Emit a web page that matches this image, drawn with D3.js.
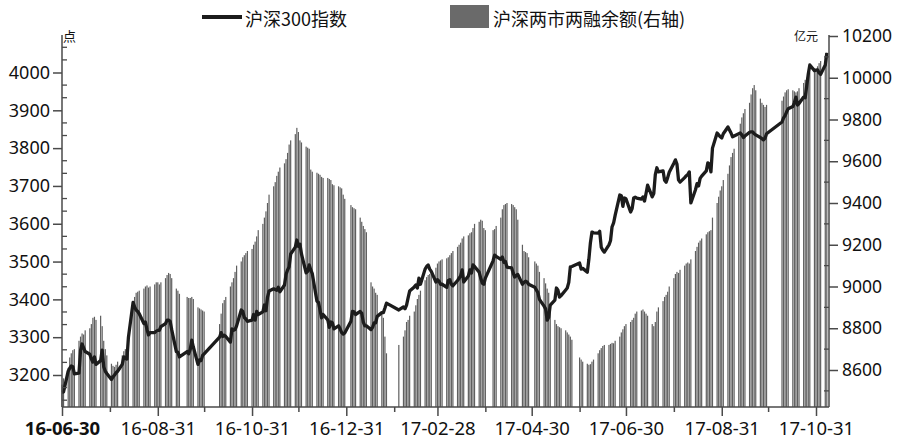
<!DOCTYPE html>
<html><head><meta charset="utf-8">
<script src="https://cdn.jsdelivr.net/npm/d3@7/dist/d3.min.js"></script>
<style>body{margin:0;background:#fff}svg{display:block}</style>
</head><body><svg id="c" width="900" height="445"></svg>
<script>
// ---- categories: trading months and exchange holidays ----
const months = ["2016-06","2016-07","2016-08","2016-09","2016-10","2016-11","2016-12",
  "2017-01","2017-02","2017-03","2017-04","2017-05","2017-06","2017-07","2017-08","2017-09","2017-10","2017-11"];
const holidays = ["2016-09-15","2016-09-16","2016-10-03","2016-10-04","2016-10-05","2016-10-06","2016-10-07",
  "2017-01-02","2017-01-27","2017-01-30","2017-01-31","2017-02-01","2017-02-02","2017-04-03","2017-04-04",
  "2017-05-01","2017-05-29","2017-05-30","2017-10-02","2017-10-03","2017-10-04","2017-10-05","2017-10-06"];
const firstDay = "2016-06-30", lastDay = "2017-11-07";

// ---- series: 沪深300指数 (left axis), one value per trading day, per month ----
const hs300 = [
  [3154],
  [3155,3210,3218,3224,3222,3203,3205,3265,3282,3272,3262,3255,3242,3234,3248,3228,3238,3266,3222,3210,3204],
  [3188,3195,3200,3206,3210,3228,3248,3245,3242,3300,3392,3380,3372,3368,3362,3336,3340,3320,3306,3312,3312,3316,3318],
  [3318,3328,3336,3345,3345,3342,3320,3262,3260,3248,3262,3256,3268,3292,3274,3228,3240,3238,3252,3256],
  [3300,3312,3302,3305,3302,3287,3322,3318,3320,3330,3372,3368,3352,3348,3342,3345],
  [3360,3345,3368,3360,3367,3385,3370,3405,3422,3428,3426,3424,3432,3420,3438,3466,3478,3486,3520,3538,3557,3540],
  [3546,3520,3470,3474,3491,3478,3468,3395,3392,3372,3351,3360,3346,3326,3340,3338,3322,3330,3322,3312,3308,3311],
  [3342,3368,3367,3360,3368,3363,3340,3330,3330,3320,3326,3338,3338,3355,3365,3365,3377,3390],
  [3372,3380,3375,3385,3404,3422,3433,3438,3430,3456,3440,3480,3487,3491,3480,3474,3446,3452],
  [3448,3440,3440,3432,3450,3452,3440,3436,3450,3456,3462,3478,3446,3462,3478,3470,3491,3487,3472,3456,3443,3440,3456],
  [3502,3517,3514,3506,3512,3498,3500,3485,3483,3470,3459,3463,3466,3440,3445,3448,3446,3440],
  [3432,3425,3418,3400,3382,3375,3345,3353,3385,3398,3430,3424,3406,3410,3425,3430,3445,3486,3487,3496],
  [3480,3482,3472,3506,3550,3578,3576,3575,3580,3538,3530,3525,3544,3555,3592,3602,3622,3676,3674,3646,3668,3666],
  [3631,3640,3668,3670,3668,3665,3671,3660,3680,3702,3671,3680,3730,3748,3737,3740,3715,3710,3722,3736,3760],
  [3769,3758,3716,3710,3722,3727,3730,3737,3655,3690,3706,3700,3720,3726,3740,3761,3758,3737,3800,3840,3835,3830,3827],
  [3838,3856,3848,3840,3830,3832,3838,3840,3835,3828,3832,3842,3843,3843,3838,3835,3828,3825,3822,3826,3838],
  [3869,3880,3886,3896,3904,3910,3920,3935,3914,3918,3935,3933,3965,3996,4020,4005,4006],
  [4007,3999,3995,4020,4052]
];
// ---- series: 沪深两市两融余额 (亿元, right axis) ----
const marginBal = [
  [8530],
  [8560,8610,8660,8680,8695,8700,8740,8760,8775,8770,8790,8800,8820,8850,8855,8840,8860,8810,8740,8700,8670],
  [8630,8620,8615,8625,8640,8670,8690,8700,8705,8760,8900,8950,8970,8975,8980,8990,9000,9005,8995,9000,9010,9020,9020],
  [9010,9020,9040,9055,9065,9060,9040,8990,8980,8965,8950,8945,8945,8950,8940,8900,8895,8890,8885,8880],
  [8820,8870,8920,8935,8950,9000,9020,9040,9070,9100,9120,9140,9150,9160,9170,9180],
  [9200,9215,9240,9270,9300,9330,9360,9400,9440,9480,9500,9530,9550,9570,9590,9610,9640,9680,9700,9730,9760,9740],
  [9700,9690,9670,9665,9660,9560,9550,9545,9540,9535,9525,9520,9520,9515,9510,9490,9485,9480,9475,9470,9440,9420],
  [9390,9380,9375,9370,9330,9310,9290,9275,9260,9020,9000,8990,8970,8960,8880,8850,8760,8680],
  [8720,8760,8790,8830,8840,8860,8880,8910,8940,8960,8980,9030,9045,9055,9060,9070,9090,9110],
  [9120,9125,9130,9135,9140,9150,9160,9170,9190,9200,9210,9230,9240,9245,9255,9260,9280,9300,9310,9320,9315,9280,9270],
  [9270,9275,9290,9330,9370,9390,9395,9400,9395,9390,9380,9370,9320,9200,9170,9165,9160,9140],
  [9120,9110,9100,9070,9040,9015,8990,8970,8900,8840,8820,8810,8805,8800,8790,8780,8770,8760,8745,8660],
  [8650,8640,8630,8625,8628,8640,8650,8680,8695,8705,8715,8720,8720,8725,8730,8728,8740,8760,8780,8795,8810,8820],
  [8830,8840,8850,8870,8880,8885,8890,8880,8870,8860,8820,8810,8830,8880,8900,8930,8950,8960,8975,9000,9040],
  [9060,9070,9065,9080,9100,9110,9115,9110,9130,9170,9190,9210,9220,9230,9250,9260,9265,9270,9330,9400,9430,9460,9480],
  [9510,9540,9580,9620,9640,9660,9720,9780,9810,9830,9850,9880,9920,9950,9965,9940,9900,9880,9870,9860,9870],
  [9890,9910,9930,9940,9945,9940,9935,9930,9935,9950,9975,9990,10000,10010,10025,10035,10045],
  [10055,10070,10080,10100,10120]
];

// ---- tick labels ----
const xTickDates = ["2016-06-30","2016-07-31","2016-08-31","2016-09-30","2016-10-31","2016-11-30","2016-12-31",
  "2017-01-31","2017-02-28","2017-03-31","2017-04-30","2017-05-31","2017-06-30","2017-07-31","2017-08-31","2017-09-30","2017-10-31"];
const xTickLabels = ["16-06-30","","16-08-31","","16-10-31","","16-12-31","","17-02-28","","17-04-30","","17-06-30","","17-08-31","","17-10-31"];
const leftTicks = [3200,3300,3400,3500,3600,3700,3800,3900,4000];
const rightTicks = [8600,8800,9000,9200,9400,9600,9800,10000,10200];
const legendLabels = ["沪深300指数","沪深两市两融余额(右轴)"];

// ---- build rows ----
const parse = d3.timeParse("%Y-%m-%d"), fmt = d3.timeFormat("%Y-%m-%d");
const hol = new Set(holidays);
const d0 = parse(firstDay), d1 = parse(lastDay);
const rows = [];
months.forEach((m, i) => {
  const [yy, mm] = m.split("-").map(Number);
  const days = d3.timeDays(new Date(yy, mm - 1, 1), new Date(yy, mm, 1))
    .filter(d => d.getDay() % 6 !== 0 && !hol.has(fmt(d)) && d >= d0 && d <= d1);
  days.forEach((d, j) => { if (hs300[i][j] != null) rows.push({date: d, hs: hs300[i][j], mg: marginBal[i][j]}); });
});

// ---- layout ----
const L = 62, R = 829, T = 35, B = 407;
const svg = d3.select("#c");
const x = d3.scaleTime().domain([parse("2016-06-30"), parse("2017-10-31")]).range([62, 816]);
const yL = d3.scaleLinear().domain([3200, 4000]).range([375, 72.5]);
const yR = d3.scaleLinear().domain([8600, 10200]).range([370, 36]);
const numFont = "'Noto Sans', 'Noto Sans CJK SC', sans-serif";
const cjkFont = "'Noto Sans CJK SC', 'Noto Sans', sans-serif";
const axisCol = "#4a4a4a";

// bars
svg.append("g").selectAll("rect").data(rows).join("rect")
  .attr("x", d => x(d.date) - 0.6).attr("width", 1.2)
  .attr("y", d => yR(d.mg)).attr("height", d => B - yR(d.mg))
  .attr("fill", "#5f5f5f");

// line
svg.append("path").datum(rows)
  .attr("d", d3.line().x(d => x(d.date)).y(d => yL(d.hs)))
  .attr("fill", "none").attr("stroke", "#1c1c1c").attr("stroke-width", 3.3)
  .attr("stroke-linejoin", "round");

// axes lines
const ax = svg.append("g").attr("stroke", axisCol).attr("stroke-width", 1.5);
ax.append("line").attr("x1", L).attr("x2", L).attr("y1", T).attr("y2", B);
ax.append("line").attr("x1", R).attr("x2", R).attr("y1", T).attr("y2", B);
ax.append("line").attr("x1", L).attr("x2", R).attr("y1", B).attr("y2", B);

// left axis
const gl = svg.append("g").attr("transform", `translate(${L},0)`)
  .call(d3.axisLeft(yL).tickValues(leftTicks).tickSize(9).tickPadding(3).tickFormat(d3.format("d")));
gl.select(".domain").remove();
gl.selectAll(".tick line").attr("stroke", axisCol).attr("stroke-width", 1.5);
gl.selectAll(".tick text").attr("font-family", numFont).attr("font-size", 18).attr("fill", "#111");
const leftMinor = d3.range(3200 - 200/3, 4100.1, 100/3).filter(v => Math.abs((v - 3200) % 100) > 1 && Math.abs((v - 3200) % 100 - 100) > 1);
svg.append("g").selectAll("line").data(leftMinor).join("line")
  .attr("x1", L).attr("x2", L + 5).attr("y1", d => yL(d)).attr("y2", d => yL(d))
  .attr("stroke", axisCol).attr("stroke-width", 1.3);

// right axis
const gr = svg.append("g").attr("transform", `translate(${R},0)`)
  .call(d3.axisRight(yR).tickValues(rightTicks).tickSize(9).tickPadding(4).tickFormat(d3.format("d")));
gr.select(".domain").remove();
gr.selectAll(".tick line").attr("stroke", axisCol).attr("stroke-width", 1.5);
gr.selectAll(".tick text").attr("font-family", numFont).attr("font-size", 17.5).attr("fill", "#111");
const rightMinor = d3.range(8500, 10200, 200);
svg.append("g").selectAll("line").data(rightMinor).join("line")
  .attr("x1", R - 5).attr("x2", R).attr("y1", d => yR(d)).attr("y2", d => yR(d))
  .attr("stroke", axisCol).attr("stroke-width", 1.3);

// bottom axis
const tickDates = xTickDates.map(parse);
const gb = svg.append("g").attr("transform", `translate(0,${B})`)
  .call(d3.axisBottom(x).tickValues(tickDates).tickSize(9).tickPadding(6)
    .tickFormat((d, i) => xTickLabels[i]));
gb.select(".domain").remove();
gb.selectAll(".tick line").attr("stroke", axisCol).attr("stroke-width", 1.5)
  .attr("y2", (d, i) => xTickLabels[i] ? 9 : 5);
gb.selectAll(".tick text").attr("font-family", numFont).attr("font-size", 18.5).attr("fill", "#111")
  .attr("font-weight", (d, i) => i === 0 ? "bold" : "normal");

// unit labels
svg.append("text").attr("x", 63).attr("y", 35).attr("dominant-baseline", "central")
  .attr("font-family", cjkFont).attr("font-size", 13).attr("fill", "#111").text("点");
svg.append("text").attr("x", 818).attr("y", 35).attr("dominant-baseline", "central").attr("text-anchor", "end")
  .attr("font-family", cjkFont).attr("font-size", 12).attr("fill", "#111").text("亿元");

// legend
svg.append("line").attr("x1", 202).attr("x2", 242).attr("y1", 17).attr("y2", 17)
  .attr("stroke", "#1c1c1c").attr("stroke-width", 4);
svg.append("text").attr("x", 245).attr("y", 18).attr("dominant-baseline", "central")
  .attr("font-family", cjkFont).attr("font-size", 18).attr("fill", "#111").text(legendLabels[0]);
svg.append("rect").attr("x", 450).attr("y", 5).attr("width", 39).attr("height", 23).attr("fill", "#6a6a6a");
svg.append("text").attr("x", 493).attr("y", 18).attr("dominant-baseline", "central")
  .attr("font-family", cjkFont).attr("font-size", 18).attr("fill", "#111").text(legendLabels[1]);
</script></body></html>
